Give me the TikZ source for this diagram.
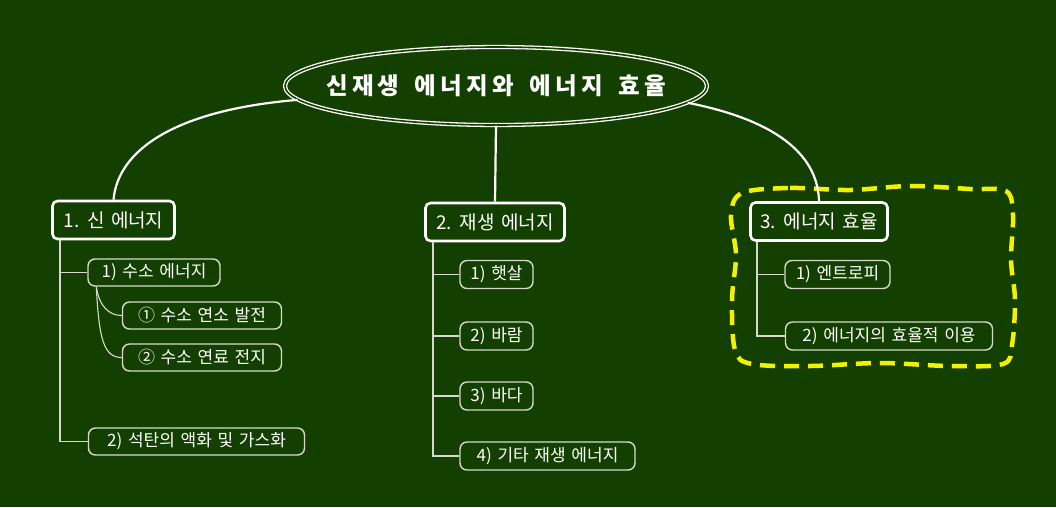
\documentclass[tikz,border=0pt]{standalone}
\usepackage{fontspec}
\setmainfont[WordSpace=1.5]{Noto Sans CJK KR}
\newfontfamily\titlefont[LetterSpace=18,WordSpace=1.6]{Noto Sans CJK KR}
\usetikzlibrary{shapes.geometric,calc}
\definecolor{bg}{HTML}{134000}
\definecolor{subline}{HTML}{D6DACE}
\definecolor{hl}{HTML}{F2F200}
\begin{document}
\begin{tikzpicture}[x=1pt,y=-1pt,
  topnode/.style={ellipse, draw=white, double=bg, double distance=1.6pt, line width=1.3pt,
    minimum width=422pt, minimum height=78pt, inner xsep=-30pt, inner ysep=0pt, text=white,
    font=\titlefont\fontsize{23.5}{28}\selectfont\bfseries},
  mainbox/.style={draw=white, line width=2.6pt, rounded corners=5pt, text=white,
    font=\fontsize{19}{22}\selectfont, minimum height=38pt, inner sep=0pt},
  subbox/.style={draw=subline, line width=1.4pt, rounded corners=7pt, text=white,
    font=\fontsize{17}{19}\selectfont, minimum height=27pt, inner sep=0pt},
  bigconn/.style={draw=white, line width=2.2pt},
  conn/.style={draw=subline, line width=1.6pt},
  hlline/.style={draw=hl, line width=4.5pt, dash pattern=on 15pt off 9pt},
]
\fill[bg] (0,0) rectangle (1056,507);
\useasboundingbox (0,0) rectangle (1056,507);

% highlight boundary
\draw[hlline] plot[smooth cycle, tension=0.55] coordinates {
  (742,193) (790,188) (850,190) (910,186) (970,189) (1006,191)
  (1013,215) (1011,260) (1015,300) (1012,345) (1003,364)
  (950,366) (880,363) (810,366) (752,364)
  (735,350) (732,300) (736,255) (731,215)};

% central node
\node[topnode] (top) at (496,86) {신재생 에너지와 에너지 효율};

% main boxes
\node[mainbox, minimum width=122pt] (m1) at (113.5,220) {1. 신 에너지};
\node[mainbox, minimum width=139pt] (m2) at (495,222) {2. 재생 에너지};
\node[mainbox, minimum width=137pt] (m3) at (819,221.5) {3. 에너지 효율};

% sub boxes
\node[subbox, minimum width=132pt] (s11) at (154,272.5) {1) 수소 에너지};
\node[subbox, minimum width=159pt] (s111) at (202,315.5) {① 수소 연소 발전};
\node[subbox, minimum width=159pt] (s112) at (202,357.5) {② 수소 연료 전지};
\node[subbox, minimum width=216pt] (s12) at (196.5,441.5) {2) 석탄의 액화 및 가스화};

\node[subbox, minimum width=73pt, minimum height=28pt] (s21) at (496.5,274.5) {1) 햇살};
\node[subbox, minimum width=73pt, minimum height=28pt] (s22) at (496.5,336) {2) 바람};
\node[subbox, minimum width=73pt, minimum height=28pt] (s23) at (496.5,396) {3) 바다};
\node[subbox, minimum width=175pt, minimum height=28pt] (s24) at (547.5,456) {4) 기타 재생 에너지};

\node[subbox, minimum width=105pt, minimum height=28pt] (s31) at (837.5,274.5) {1) 엔트로피};
\node[subbox, minimum width=207pt, minimum height=28pt] (s32) at (889,336) {2) 에너지의 효율적 이용};

% top connectors
\draw[bigconn] (top.184) .. controls (175,110) and (118,150) .. (m1.north);
\draw[bigconn] (top.south) -- (m2.north);
\draw[bigconn] (top.355) .. controls (785,122) and (818,160) .. (m3.north);

% column 1
\coordinate (c1) at ($(m1.south west)+(9,0)$);
\draw[conn] (c1) |- (s11.west);
\draw[conn] (c1) |- (s12.west);
\coordinate (c11) at ($(s11.south west)+(9,0)$);
\draw[conn, line width=1.1pt] (c11) .. controls (99,305) and (108,315.5) .. (s111.west);
\draw[conn, line width=1.1pt] (c11) .. controls (99,340) and (104,357.5) .. (s112.west);

% column 2
\coordinate (c2) at ($(m2.south west)+(9,0)$);
\foreach \s in {s21,s22,s23,s24} \draw[conn] (c2) |- (\s.west);

% column 3
\coordinate (c3) at ($(m3.south west)+(8,0)$);
\foreach \s in {s31,s32} \draw[conn] (c3) |- (\s.west);
\end{tikzpicture}
\end{document}
